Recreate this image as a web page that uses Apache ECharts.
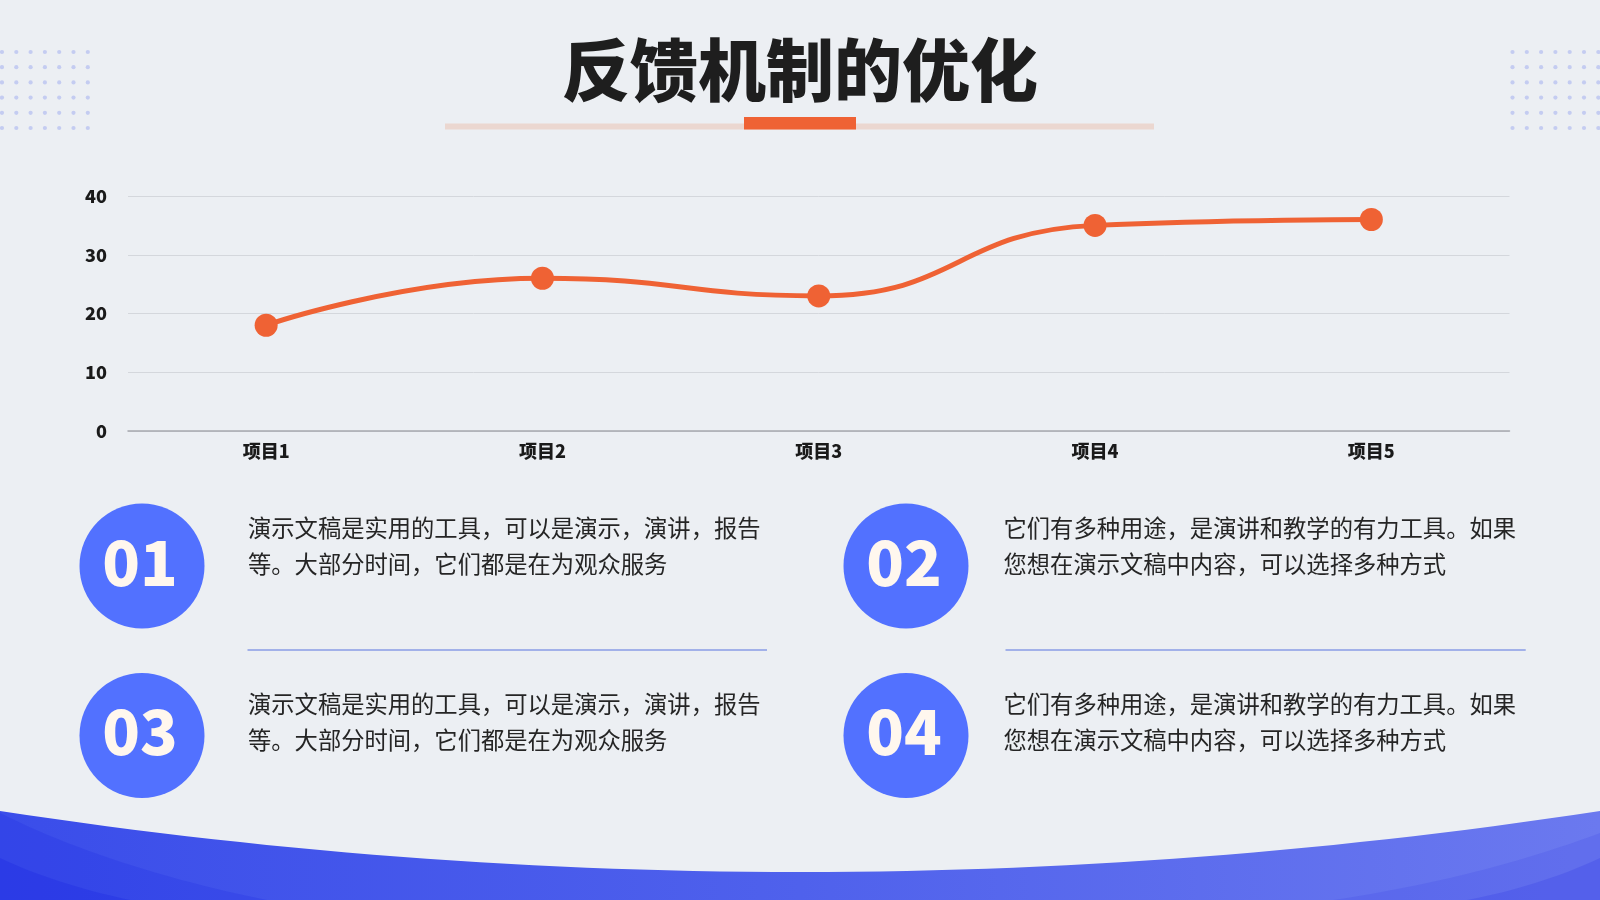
<!DOCTYPE html>
<html>
<head>
<meta charset="utf-8">
<title>反馈机制的优化</title>
<script src="https://cdn.jsdelivr.net/npm/echarts@6.0.0/dist/echarts.min.js"></script>
<style>
  html, body { margin: 0; padding: 0; background: #ECEFF3; }
  #main { width: 1600px; height: 900px; }
</style>
</head>
<body>
<div id="main"></div>
<script>
// 数据
const categories = ["项目1", "项目2", "项目3", "项目4", "项目5"];
const values = [18, 26, 23, 35, 36];
const yMin = 0;
const yMax = 40;
const yStep = 10;

const pageTitle = "反馈机制的优化";
const badges = ["01", "02", "03", "04"];
const notes = [
  "演示文稿是实用的工具，可以是演示，演讲，报告\n等。大部分时间，它们都是在为观众服务",
  "它们有多种用途，是演讲和教学的有力工具。如果\n您想在演示文稿中内容，可以选择多种方式",
  "演示文稿是实用的工具，可以是演示，演讲，报告\n等。大部分时间，它们都是在为观众服务",
  "它们有多种用途，是演讲和教学的有力工具。如果\n您想在演示文稿中内容，可以选择多种方式"
];

const ORANGE = "#EF6234";
const BLUE = "#5271FF";
const CJK = '"Noto Sans CJK SC", "Noto Sans", sans-serif';

// 二次贝塞尔取点（装饰用）
function quad(x0, y0, cx, cy, x1, y1, n) {
  const pts = [];
  for (let i = 0; i <= n; i++) {
    const t = i / n;
    const a = (1 - t) * (1 - t), b = 2 * t * (1 - t), c = t * t;
    pts.push([a * x0 + b * cx + c * x1, a * y0 + b * cy + c * y1]);
  }
  return pts;
}

const elements = [];

// 点阵
function dots(x0) {
  for (let r = 0; r < 6; r++) {
    for (let c = 0; c < 7; c++) {
      elements.push({
        type: "circle",
        shape: { cx: x0 + c * 14.3, cy: 52 + r * 15.2, r: 2.1 },
        style: { fill: "#C4CCF1" },
        silent: true
      });
    }
  }
}
dots(2);
dots(1512.5);

// 标题
elements.push({
  type: "text",
  style: {
    text: pageTitle, x: 800, y: 70,
    align: "center", verticalAlign: "middle",
    font: "900 68px " + CJK, fill: "#1E1E1E"
  }
});
elements.push({ type: "rect", shape: { x: 445, y: 123.5, width: 709, height: 6 }, style: { fill: "#EBD7D0" } });
elements.push({ type: "rect", shape: { x: 744, y: 117, width: 112, height: 12.6 }, style: { fill: ORANGE } });

// 圆形编号 + 说明文字
const blocks = [
  { cx: 142, cy: 566, tx: 248, ty: 546.3 },
  { cx: 906, cy: 566, tx: 1003.5, ty: 546.3 },
  { cx: 142, cy: 735.5, tx: 248, ty: 722 },
  { cx: 906, cy: 735.5, tx: 1003.5, ty: 722 }
];
blocks.forEach(function (b, i) {
  elements.push({ type: "circle", shape: { cx: b.cx, cy: b.cy, r: 62.5 }, style: { fill: BLUE } });
  elements.push({
    type: "text",
    style: {
      text: badges[i], x: b.cx - 2, y: b.cy - 4,
      align: "center", verticalAlign: "middle",
      font: "900 62px " + CJK, fill: "#FFF7EE"
    }
  });
  elements.push({
    type: "text",
    style: {
      text: notes[i], x: b.tx, y: b.ty,
      align: "left", verticalAlign: "middle", lineHeight: 36,
      font: "400 23.3px " + CJK, fill: "#252525"
    }
  });
});

// 分隔线
elements.push({ type: "line", shape: { x1: 247.5, y1: 650, x2: 767, y2: 650 }, style: { stroke: "#8A9DE6", lineWidth: 1.5 } });
elements.push({ type: "line", shape: { x1: 1005.5, y1: 650, x2: 1525.7, y2: 650 }, style: { stroke: "#8A9DE6", lineWidth: 1.5 } });

// 底部波浪
const wave = quad(0, 811, 800, 933, 1600, 811, 60).concat([[1600, 900], [0, 900]]);
elements.push({
  type: "polygon",
  shape: { points: wave },
  style: {
    fill: new echarts.graphic.LinearGradient(0, 0, 1, 0, [
      { offset: 0, color: "#3A4DEA" },
      { offset: 0.5, color: "#4F61EC" },
      { offset: 1, color: "#6B79EF" }
    ])
  },
  silent: true
});
[
  { p: quad(0, 813, 110, 868, 267, 900, 24).concat([[0, 900]]), c: "rgba(28,40,226,0.22)" },
  { p: quad(0, 858, 55, 884, 130, 900, 16).concat([[0, 900]]), c: "rgba(28,40,226,0.32)" },
  { p: quad(1600, 833, 1480, 878, 1333, 900, 24).concat([[1600, 900]]), c: "rgba(40,52,228,0.14)" },
  { p: quad(1600, 858, 1540, 886, 1467, 900, 16).concat([[1600, 900]]), c: "rgba(40,52,228,0.22)" }
].forEach(function (s) {
  elements.push({ type: "polygon", shape: { points: s.p }, style: { fill: s.c }, silent: true });
});

const chart = echarts.init(document.getElementById("main"));
const option = {
  backgroundColor: "#ECEFF3",
  animation: false,
  grid: { left: 128, right: 90.5, top: 196, bottom: 469, containLabel: false },
  xAxis: {
    type: "category",
    data: categories,
    boundaryGap: true,
    axisTick: { show: false },
    axisLine: { lineStyle: { color: "#A6A9AE", width: 1.5 } },
    axisLabel: { margin: 11, color: "#1A1A1A", fontFamily: CJK, fontWeight: 900, fontSize: 18 }
  },
  yAxis: {
    type: "value",
    min: yMin,
    max: yMax,
    interval: yStep,
    axisLine: { show: false },
    axisTick: { show: false },
    splitLine: { lineStyle: { color: "#D4D7DC", width: 1 } },
    axisLabel: { margin: 21, color: "#1A1A1A", fontFamily: CJK, fontWeight: 900, fontSize: 18 }
  },
  series: [{
    type: "line",
    data: values,
    smooth: true,
    symbol: "circle",
    symbolSize: 23,
    lineStyle: { color: ORANGE, width: 5 },
    itemStyle: { color: ORANGE }
  }],
  graphic: { elements: elements }
};
chart.setOption(option);
</script>
</body>
</html>
